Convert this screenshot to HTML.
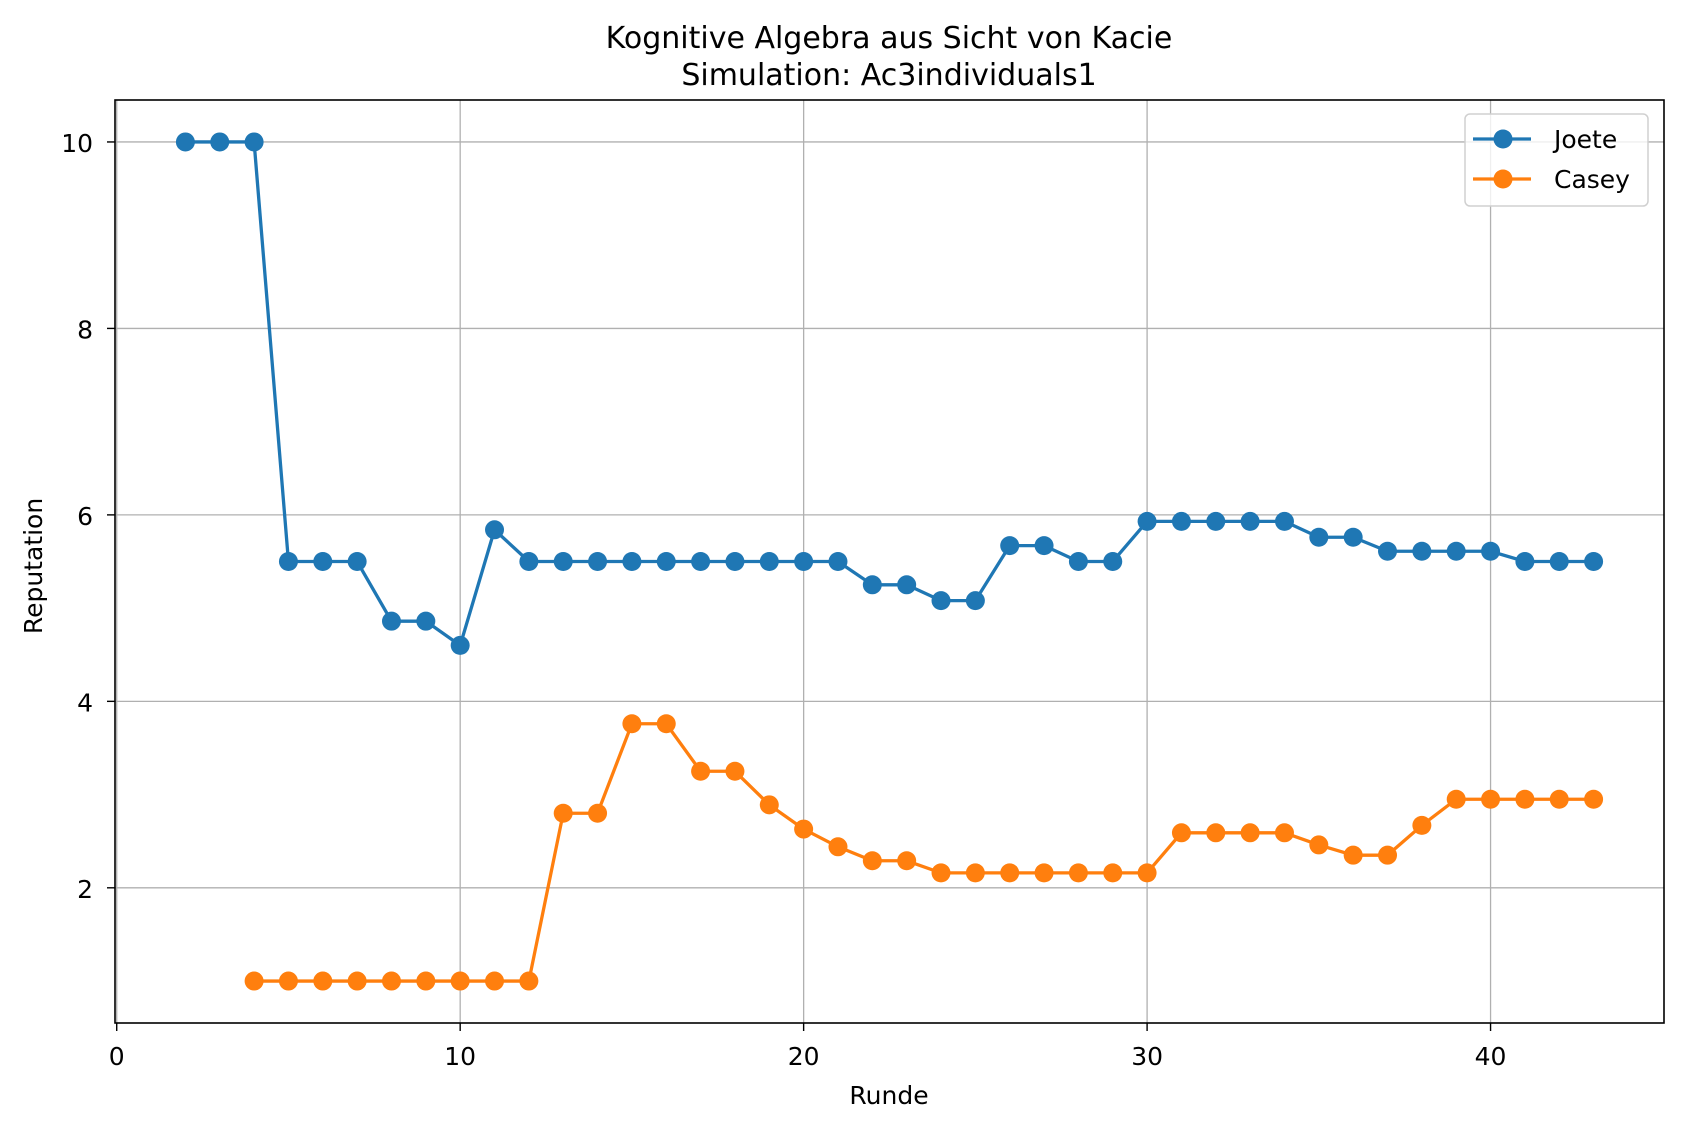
<!DOCTYPE html>
<html><head><meta charset="utf-8"><style>body{margin:0;background:#fff}svg{display:block;font-family:"DejaVu Sans","Liberation Sans",sans-serif}</style></head>
<body>
<svg id="chart" width="1683" height="1131"></svg>
<script>
const joeteX=[2,3,4,5,6,7,8,9,10,11,12,13,14,15,16,17,18,19,20,21,22,23,24,25,26,27,28,29,30,31,32,33,34,35,36,37,38,39,40,41,42,43];
const joeteY=[10,10,10,5.5,5.5,5.5,4.86,4.86,4.6,5.84,5.5,5.5,5.5,5.5,5.5,5.5,5.5,5.5,5.5,5.5,5.25,5.25,5.08,5.08,5.67,5.67,5.5,5.5,5.93,5.93,5.93,5.93,5.93,5.76,5.76,5.61,5.61,5.61,5.61,5.5,5.5,5.5];
const caseyX=[4,5,6,7,8,9,10,11,12,13,14,15,16,17,18,19,20,21,22,23,24,25,26,27,28,29,30,31,32,33,34,35,36,37,38,39,40,41,42,43];
const caseyY=[1,1,1,1,1,1,1,1,1,2.8,2.8,3.76,3.76,3.25,3.25,2.89,2.63,2.44,2.29,2.29,2.16,2.16,2.16,2.16,2.16,2.16,2.16,2.59,2.59,2.59,2.59,2.46,2.35,2.35,2.67,2.95,2.95,2.95,2.95,2.95];
const xTicks=[0,10,20,30,40];
const yTicks=[2,4,6,8,10];
const L=115,R=1664,T=100,B=1023;
const xMin=-0.05,xMax=45.05,yMin=0.55,yMax=10.45;
const sx=v=>L+(v-xMin)/(xMax-xMin)*(R-L);
const sy=v=>B-(v-yMin)/(yMax-yMin)*(B-T);
const svg=document.getElementById('chart');
const NS='http://www.w3.org/2000/svg';
function mk(tag,attrs,parent){const e=document.createElementNS(NS,tag);for(const k in attrs)e.setAttribute(k,attrs[k]);(parent||svg).appendChild(e);return e;}
const grid=mk('g',{});


xTicks.forEach(t=>{const x=sx(t);
 const g=mk('line',{x1:x,x2:x,y1:T,y2:B,stroke:'#b0b0b0','stroke-width':1.3},grid);
 
 
 mk('line',{x1:x,x2:x,y1:B,y2:B+8,stroke:'#000','stroke-width':1.4});
 const tx=mk('text',{x:x,y:B+42,'text-anchor':'middle','font-size':25});
 tx.textContent=t;
 
 
});
yTicks.forEach(t=>{const y=sy(t);
 const g=mk('line',{x1:L,x2:R,y1:y,y2:y,stroke:'#b0b0b0','stroke-width':1.3},grid);
 
 
 mk('line',{x1:L-8,x2:L,y1:y,y2:y,stroke:'#000','stroke-width':1.4});
 const tx=mk('text',{x:L-22,y:y+10,'text-anchor':'end','font-size':25});
 tx.textContent=t;
 
 
});
function series(xs,ys,color,name){
 const g=mk('g',{});
 
 
 mk('polyline',{points:xs.map((x,i)=>sx(x)+','+sy(ys[i])).join(' '),fill:'none',stroke:color,'stroke-width':3.3},g);
 xs.forEach((x,i)=>{const c=mk('circle',{cx:sx(x),cy:sy(ys[i]),r:9.5,fill:color},g);
  
  });
}
series(joeteX,joeteY,'#1f77b4','series-joete');
series(caseyX,caseyY,'#ff7f0e','series-casey');
const frame=mk('rect',{x:L,y:T,width:R-L,height:B-T,fill:'none',stroke:'#000','stroke-width':1.6});


</script>
<svg style="position:absolute;left:0;top:0;font-family:'DejaVu Sans','Liberation Sans',sans-serif" width="1683" height="1131">
<text x="889" y="48" text-anchor="middle" font-size="30">Kognitive Algebra aus Sicht von Kacie</text>
<text x="889" y="85" text-anchor="middle" font-size="30">Simulation: Ac3individuals1</text>
<text x="889" y="1104" text-anchor="middle" font-size="25">Runde</text>
<text x="42" y="566" text-anchor="middle" font-size="25" transform="rotate(-90 42 566)">Reputation</text>
<g>
<rect x="1465" y="114" width="183" height="92" rx="5" fill="#fff" fill-opacity="0.8" stroke="#d0d0d0" stroke-width="1.5"/>
<g><line x1="1473" y1="139" x2="1531" y2="139" stroke="#1f77b4" stroke-width="3.3"/><circle cx="1503" cy="139" r="9.5" fill="#1f77b4"/><text x="1554" y="148" font-size="25">Joete</text></g>
<g><line x1="1473" y1="179" x2="1531" y2="179" stroke="#ff7f0e" stroke-width="3.3"/><circle cx="1503" cy="179" r="9.5" fill="#ff7f0e"/><text x="1554" y="188" font-size="25">Casey</text></g>
</g>
</svg>
</body></html>
